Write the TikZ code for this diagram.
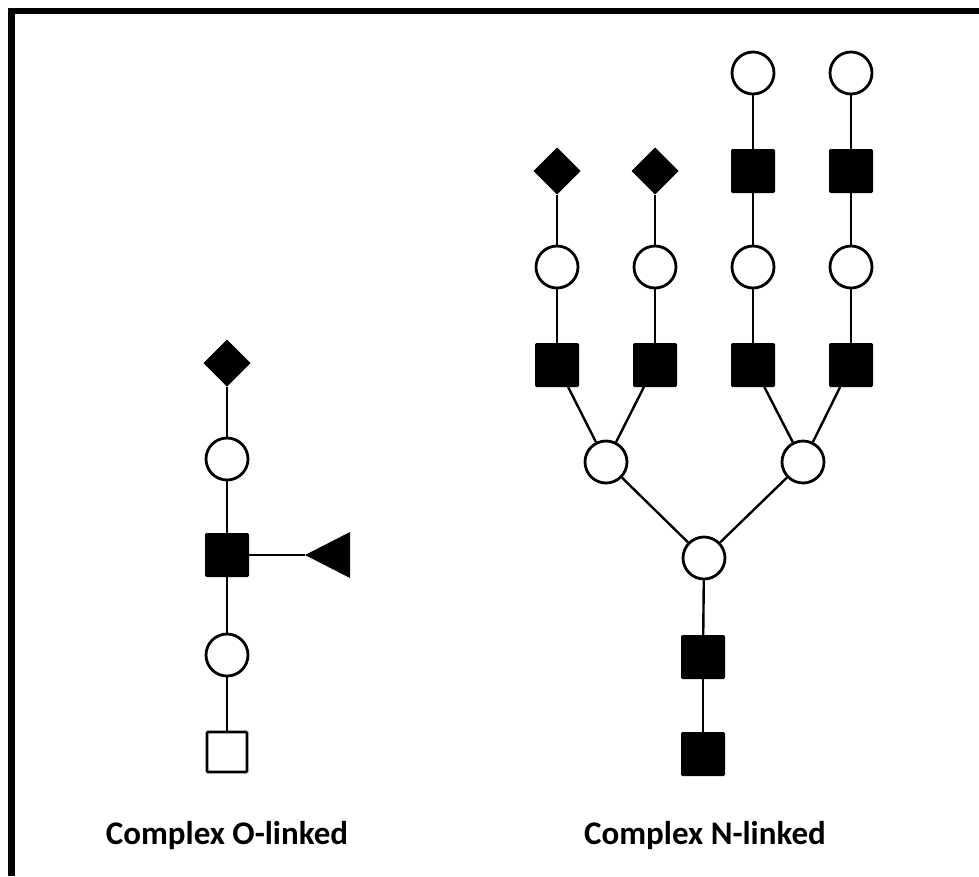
\documentclass[tikz,border=0pt]{standalone}
\usepackage{fontspec}
\setmainfont{Carlito}
\usetikzlibrary{shapes.geometric}
\begin{document}
\begin{tikzpicture}[x=1pt,y=-1pt,
  gc/.style={circle,draw=black,line width=2.8pt,fill=white,minimum size=42pt,inner sep=0pt},
  gsq/.style={rectangle,draw=black,line width=1pt,fill=black,minimum size=43pt,inner sep=0pt,rounded corners=1pt},
  wsq/.style={rectangle,draw=black,line width=2.8pt,fill=white,minimum size=40pt,inner sep=0pt,rounded corners=1pt},
  gdi/.style={diamond,draw=black,line width=1pt,fill=black,minimum size=46pt,inner sep=0pt},
  link/.style={draw=black,line width=2.4pt},
  lab/.style={font=\bfseries\fontsize{33}{38}\selectfont,inner sep=0pt}]
\useasboundingbox (0,0) rectangle (979,876);
\fill[white] (0,0) rectangle (979,876);
% frame
\draw[line width=6.5pt] (11.5,876) -- (11.5,11) -- (979,11);
% O-linked
\node[gdi] (o1) at (227,363) {};
\node[gc]  (o2) at (227,459) {};
\node[gsq] (o3) at (227,555) {};
\node[gc]  (o4) at (227,655) {};
\node[wsq] (o5) at (227,752) {};
\coordinate (tri) at (305,555);
\fill[black] (tri) -- (350,532) -- (350,578) -- cycle;
\draw[link] (o1) -- (o2);
\draw[link] (o2) -- (o3);
\draw[link] (o3) -- (o4);
\draw[link] (o4) -- (o5);
\draw[link] (o3) -- (tri);
% N-linked
\node[gdi] (a1) at (557,171) {};
\node[gc]  (a2) at (557,267) {};
\node[gsq] (a3) at (557,365) {};
\node[gdi] (b1) at (655,171) {};
\node[gc]  (b2) at (655,267) {};
\node[gsq] (b3) at (655,365) {};
\node[gc]  (c0) at (753,73) {};
\node[gsq] (c1) at (753,171) {};
\node[gc]  (c2) at (753,267) {};
\node[gsq] (c3) at (753,365) {};
\node[gc]  (d0) at (851,73) {};
\node[gsq] (d1) at (851,171) {};
\node[gc]  (d2) at (851,267) {};
\node[gsq] (d3) at (851,365) {};
\node[gc]  (m1) at (606,462) {};
\node[gc]  (m2) at (803,462) {};
\node[gc]  (r)  at (704,558) {};
\node[gsq] (s1) at (703,657) {};
\node[gsq] (s2) at (703,754) {};
\draw[link] (a1) -- (a2); \draw[link] (a2) -- (a3);
\draw[link] (b1) -- (b2); \draw[link] (b2) -- (b3);
\draw[link] (c0) -- (c1); \draw[link] (c1) -- (c2); \draw[link] (c2) -- (c3);
\draw[link] (d0) -- (d1); \draw[link] (d1) -- (d2); \draw[link] (d2) -- (d3);
\draw[link] (a3) -- (m1); \draw[link] (b3) -- (m1);
\draw[link] (c3) -- (m2); \draw[link] (d3) -- (m2);
\draw[link] (m1) -- (r); \draw[link] (m2) -- (r);
\draw[link] (r) -- (s1); \draw[link] (s1) -- (s2);
% labels
\node[lab] (lo) at (227,836) {Complex O-linked};
\node[lab] (ln) at (705,836) {Complex N-linked};
\end{tikzpicture}
\end{document}
